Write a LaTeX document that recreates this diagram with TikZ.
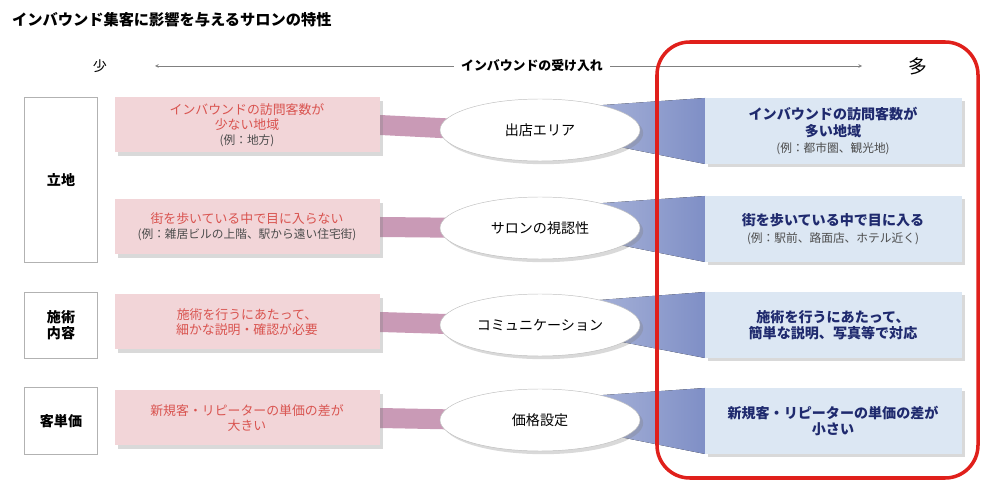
\documentclass[tikz,border=0pt]{standalone}
\usepackage{fontspec}
\setmainfont{Noto Sans CJK JP}
\usetikzlibrary{shapes.geometric,shadows}
\definecolor{lowfill}{HTML}{F2D5D8}
\definecolor{lowtext}{HTML}{D9534F}
\definecolor{highfill}{HTML}{DCE7F3}
\definecolor{hightext}{HTML}{1F2A6E}
\definecolor{pinkband}{HTML}{C99AB6}
\definecolor{blueband}{HTML}{7F8FC6}
\definecolor{framered}{HTML}{E0201B}
\newcommand\subtxt[1]{{\color{black!70}\fontsize{10}{12}\selectfont\mdseries #1}}
\tikzset{
  catbox/.style={draw=gray!60, fill=white, minimum width=73*0.03cm, font=\fontsize{12}{14}\selectfont\bfseries, align=center},
  lowbox/.style={fill=lowfill, minimum width=265*0.03cm, minimum height=55*0.03cm, text=lowtext, align=center, font=\fontsize{11}{13}\selectfont, drop shadow={opacity=0.3}},
  highbox/.style={fill=highfill, minimum width=257*0.03cm, minimum height=66*0.03cm, text=hightext, align=center, font=\fontsize{12}{14}\selectfont\bfseries, drop shadow={opacity=0.3}},
  factor/.style={ellipse, draw=gray!50, fill=white, minimum width=200*0.03cm, minimum height=62*0.03cm, font=\fontsize{12}{14}\selectfont, drop shadow={opacity=0.3}}
}
\begin{document}
\begin{tikzpicture}[x=0.03cm, y=-0.03cm]
    \useasboundingbox (0,0) rectangle (1000,487);
    % title and axis
    \node[anchor=west, font=\fontsize{13}{15}\selectfont\bfseries] (title) at (8,20) {インバウンド集客に影響を与えるサロンの特性};
    \node[font=\fontsize{12}{14}\selectfont] (few) at (100,66) {少};
    \node[font=\fontsize{16}{18}\selectfont] (many) at (918,66) {多};
    \coordinate (axl) at (155,66);
    \coordinate (axr) at (862,66);
    \draw[gray, <->, >=stealth] (axl) -- (axr);
    \node[fill=white, font=\fontsize{11}{13}\selectfont\bfseries, inner xsep=6pt] (axis) at (532,66) {インバウンドの受け入れ};

    % categories
    \node[catbox, minimum height=165*0.03cm] (loc) at (61,180) {立地};
    \node[catbox, minimum height=66*0.03cm] (op) at (61,325) {施術\\内容};
    \node[catbox, minimum height=67*0.03cm] (price) at (61,421) {客単価};

    % rows
    \foreach \n/\yl/\ye/\yh in {1/125/130/131, 2/227/228/229, 3/322/325/325, 4/418/420/421} {
        \fill[pinkband] (380,\yl-10) -- (480,\ye-10) -- (480,\ye+10) -- (380,\yl+10) -- cycle;
        \fill[left color=blueband!60, right color=blueband] (560,\ye-22) -- (705,\yh-33) -- (705,\yh+33) -- (560,\ye+5) -- cycle;
    }

    \node[lowbox] (low1) at (247,125) {インバウンドの訪問客数が\\少ない地域\\\subtxt{(例：地方)}};
    \node[lowbox] (low2) at (247,227) {街を歩いている中で目に入らない\\\subtxt{(例：雑居ビルの上階、駅から遠い住宅街)}};
    \node[lowbox] (low3) at (247,322) {施術を行うにあたって、\\細かな説明・確認が必要};
    \node[lowbox] (low4) at (247,418) {新規客・リピーターの単価の差が\\大きい};

    \node[factor] (f1) at (540,130) {出店エリア};
    \node[factor] (f2) at (540,228) {サロンの視認性};
    \node[factor] (f3) at (540,325) {コミュニケーション};
    \node[factor] (f4) at (540,420) {価格設定};

    \node[highbox] (high1) at (833,131) {インバウンドの訪問客数が\\多い地域\\\subtxt{(例：都市圏、観光地)}};
    \node[highbox] (high2) at (833,229) {街を歩いている中で目に入る\\\subtxt{(例：駅前、路面店、ホテル近く)}};
    \node[highbox] (high3) at (833,325) {施術を行うにあたって、\\簡単な説明、写真等で対応};
    \node[highbox] (high4) at (833,421) {新規客・リピーターの単価の差が\\小さい};

    % highlight frame
    \draw[framered, line width=3pt, rounded corners=28] (657,42) rectangle (978,478);
\end{tikzpicture}
\end{document}
